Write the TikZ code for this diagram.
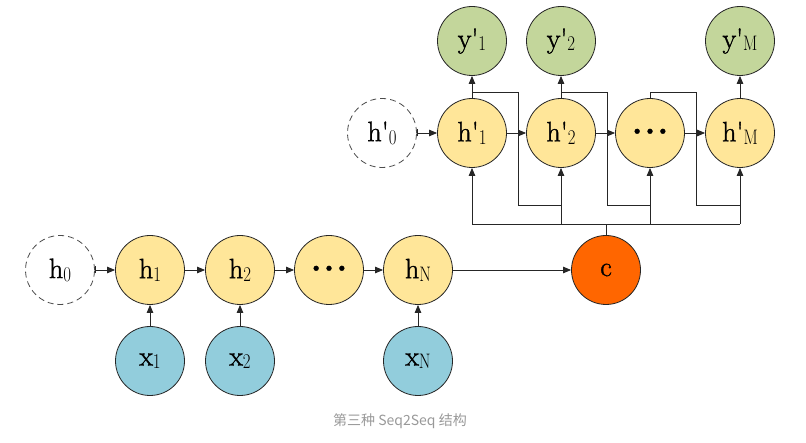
\documentclass[tikz,border=0pt]{standalone}
\usepackage{fontspec}
\usepackage{graphicx}
\newfontfamily\cjk{Noto Sans CJK SC}
\newfontfamily\lblfont[FakeBold=1.3]{Latin Modern Roman}
\usetikzlibrary{arrows.meta}
\definecolor{hy}{HTML}{FFE699}
\definecolor{xb}{HTML}{92CDDC}
\definecolor{yg}{HTML}{C3D69B}
\definecolor{co}{HTML}{FF6600}
\definecolor{capgray}{HTML}{999999}
\newcommand\sublbl[1]{\raisebox{-3pt}{\rmfamily\fontsize{21}{21}\selectfont\scalebox{0.8}[1]{#1}}}
\newcommand\lb[2]{#1\sublbl{#2}}
\newcommand\lp[2]{#1\textquotesingle\sublbl{#2}}
\newcommand\threedots{\textbullet\kern-3pt\textbullet\kern-3pt\textbullet}
\begin{document}
\begin{tikzpicture}[x=1pt,y=-1pt,
  cell/.style={circle, draw=black!85, line width=0.8pt, minimum size=69pt, inner sep=0pt, font=\lblfont\fontsize{28}{28}\selectfont},
  hcell/.style={cell, fill=hy},
  xcell/.style={cell, fill=xb},
  ycell/.style={cell, fill=yg},
  ccell/.style={cell, fill=co},
  dotcell/.style={hcell, font=\lblfont\fontsize{22}{22}\selectfont},
  dcell/.style={cell, draw=black!70, dash pattern=on 6pt off 4pt, fill=white},
  wire/.style={line width=0.8pt, draw=black!85},
  arr/.style={wire, -{Triangle[length=8pt,width=6.5pt]}},
  barr/.style={wire, {Bar[width=7pt]}-{Triangle[length=8pt,width=6.5pt]}}
]
\useasboundingbox (0,0) rectangle (806,443);
% encoder
\node[dcell] (h0) at (60,270) {\lb{h}{0}};
\node[hcell] (h1) at (150,270) {\lb{h}{1}};
\node[hcell] (h2) at (240,270) {\lb{h}{2}};
\node[dotcell] (hd) at (329,270) {\threedots};
\node[hcell] (hN) at (418,270) {\lb{h}{N}};
\node[ccell] (c) at (606,270) {c};
\node[xcell] (x1) at (150,361) {\lb{x}{1}};
\node[xcell] (x2) at (240,361) {\lb{x}{2}};
\node[xcell] (xN) at (418,361) {\lb{x}{N}};
% decoder
\node[dcell] (dh0) at (382,133) {\lp{h}{0}};
\node[hcell] (dh1) at (472,133) {\lp{h}{1}};
\node[hcell] (dh2) at (561,133) {\lp{h}{2}};
\node[dotcell] (dhd) at (650,133) {\threedots};
\node[hcell] (dhM) at (740,133) {\lp{h}{M}};
\node[ycell] (y1) at (472,41) {\lp{y}{1}};
\node[ycell] (y2) at (561,41) {\lp{y}{2}};
\node[ycell] (yM) at (740,41) {\lp{y}{M}};
% caption
\node[font=\cjk\fontsize{14}{14}\selectfont, text=capgray] (cap) at (400,421) {第三种 Seq2Seq 结构};
% encoder connectors
\draw[barr] (h0) -- (h1);
\draw[arr] (h1) -- (h2);
\draw[arr] (h2) -- (hd);
\draw[arr] (hd) -- (hN);
\draw[arr] (hN) -- (c);
\draw[arr] (x1) -- (h1);
\draw[arr] (x2) -- (h2);
\draw[arr] (xN) -- (hN);
% decoder connectors
\draw[barr] (dh0) -- (dh1);
\draw[arr] (dh1) -- (dh2);
\draw[arr] (dh2) -- (dhd);
\draw[arr] (dhd) -- (dhM);
\draw[arr] (dh1) -- (y1);
\draw[arr] (dh2) -- (y2);
\draw[arr] (dhM) -- (yM);
% context bus
\coordinate (bus) at (0,224);
\coordinate (top) at (0,92);
\coordinate (low) at (0,205);
\coordinate (m1) at (518,0);
\coordinate (m2) at (607,0);
\coordinate (m3) at (696,0);
\draw[wire] (c.north) -- (c.north |- bus);
\draw[wire] (dh1.south |- bus) -- (dhM.south |- bus);
\draw[arr] (dh1.south |- bus) -- (dh1.south);
\draw[arr] (dh2.south |- bus) -- (dh2.south);
\draw[arr] (dhd.south |- bus) -- (dhd.south);
\draw[arr] (dhM.south |- bus) -- (dhM.south);
% feedback wires
\draw[wire] (dh1.north |- top) -| (m1 |- low) -- (dh2.south |- low);
\draw[wire] (dh2.north |- top) -| (m2 |- low) -- (dhd.south |- low);
\draw[wire] (dhd.north) -- (dhd.north |- top) -| (m3 |- low) -- (dhM.south |- low);
\end{tikzpicture}
\end{document}
